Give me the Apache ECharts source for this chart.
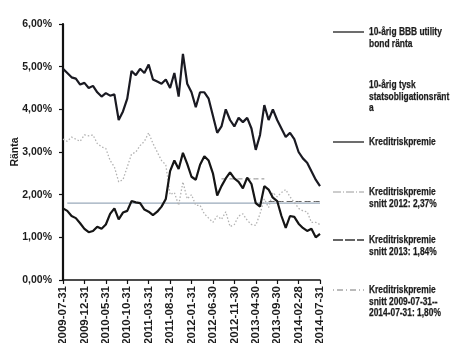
<!DOCTYPE html>
<html>
<head>
<meta charset="utf-8">
<script src="https://cdn.jsdelivr.net/npm/echarts@6/dist/echarts.min.js"></script>
<style>
  html, body { margin: 0; padding: 0; background: #fff; }
  #chart { width: 465px; height: 343px; }
</style>
</head>
<body>
<div id="chart"></div>
<script>
// Month-end observation dates
const dates = [
  '2009-07-31','2009-08-31','2009-09-30','2009-10-31','2009-11-30','2009-12-31',
  '2010-01-31','2010-02-28','2010-03-31','2010-04-30','2010-05-31','2010-06-30',
  '2010-07-31','2010-08-31','2010-09-30','2010-10-31','2010-11-30','2010-12-31',
  '2011-01-31','2011-02-28','2011-03-31','2011-04-30','2011-05-31','2011-06-30',
  '2011-07-31','2011-08-31','2011-09-30','2011-10-31','2011-11-30','2011-12-31',
  '2012-01-31','2012-02-29','2012-03-31','2012-04-30','2012-05-31','2012-06-30',
  '2012-07-31','2012-08-31','2012-09-30','2012-10-31','2012-11-30','2012-12-31',
  '2013-01-31','2013-02-28','2013-03-31','2013-04-30','2013-05-31','2013-06-30',
  '2013-07-31','2013-08-31','2013-09-30','2013-10-31','2013-11-30','2013-12-31',
  '2014-01-31','2014-02-28','2014-03-31','2014-04-30','2014-05-31','2014-06-30',
  '2014-07-31'
];

// 10-year BBB utility bond yield (%)
const bbbYield = [
  4.95, 4.85, 4.75, 4.72, 4.58, 4.62, 4.50, 4.55, 4.40, 4.30,
  4.38, 4.32, 4.35, 3.75, 3.95, 4.25, 4.90, 4.80, 4.95, 4.85,
  5.05, 4.70, 4.65, 4.60, 4.70, 4.50, 4.85, 4.30, 5.30, 4.60,
  4.40, 4.05, 4.40, 4.40, 4.25, 3.85, 3.45, 3.60, 4.00, 3.75,
  3.60, 3.80, 3.70, 3.80, 3.55, 3.05, 3.40, 4.10, 3.75, 4.00,
  3.75, 3.55, 3.35, 3.45, 3.30, 3.00, 2.85, 2.75, 2.55, 2.35,
  2.20
];

// 10-year German government bond yield (%)
const bundYield = [
  3.30, 3.25, 3.35, 3.30, 3.25, 3.40, 3.38, 3.40, 3.20, 3.12,
  3.08, 2.80, 2.65, 2.30, 2.35, 2.65, 2.95, 3.00, 3.15, 3.25,
  3.45, 3.20, 3.00, 2.80, 2.70, 2.00, 2.05, 1.75, 2.30, 1.90,
  2.00, 1.75, 1.75, 1.55, 1.45, 1.35, 1.50, 1.42, 1.60, 1.25,
  1.30, 1.50, 1.55, 1.40, 1.30, 1.28, 1.55, 1.90, 1.70, 2.05,
  1.95, 2.05, 2.12, 1.95, 1.82, 1.68, 1.62, 1.60, 1.35, 1.35,
  1.30
];

// Credit risk premium (%)
const creditPremium = [
  1.68, 1.62, 1.50, 1.45, 1.33, 1.20, 1.12, 1.15, 1.25, 1.20,
  1.30, 1.55, 1.68, 1.42, 1.58, 1.62, 1.85, 1.82, 1.80, 1.65,
  1.60, 1.52, 1.60, 1.72, 1.90, 2.55, 2.80, 2.60, 2.98, 2.72,
  2.42, 2.35, 2.70, 2.90, 2.80, 2.50, 1.98, 2.20, 2.38, 2.52,
  2.38, 2.30, 2.15, 2.40, 2.25, 1.80, 1.72, 2.20, 2.12, 1.93,
  1.85, 1.50, 1.22, 1.50, 1.48, 1.32, 1.22, 1.15, 1.20, 1.00,
  1.08
];

// Average credit risk premium levels and the date spans they are drawn over
const avg2012 = 2.37;
const avg2012Span = ['2012-08-31', '2013-06-30'];
const avg2013 = 1.84;
const avg2013Span = ['2013-07-31', '2014-07-31'];
const avgAll = 1.80;
const avgAllSpan = ['2009-08-31', '2014-07-31'];

const yTicks = [0, 1, 2, 3, 4, 5, 6];

function flatLine(level, span) {
  const i0 = dates.indexOf(span[0]);
  const i1 = dates.indexOf(span[1]);
  return dates.map((d, i) => (i >= i0 && i <= i1 ? level : null));
}

const textFont = '"Liberation Sans", Arial, sans-serif';

const legendItems = [
  { y: 32, text: '10-årig BBB utility\nbond ränta', line: { stroke: '#1e1e1e', lineWidth: 1.3 } },
  { y: 85, text: '10-årig tysk\nstatsobligationsränt\na', line: null },
  { y: 142, text: 'Kreditriskpremie', line: { stroke: '#1e1e1e', lineWidth: 1.3 } },
  { y: 192, text: 'Kreditriskpremie\nsnitt 2012: 2,37%', line: { stroke: '#9a9a9a', lineWidth: 1, lineDash: [8, 2, 1, 2] } },
  { y: 240, text: 'Kreditriskpremie\nsnitt 2013: 1,84%', line: { stroke: '#333', lineWidth: 1.3, lineDash: [10, 2] } },
  { y: 290, text: 'Kreditriskpremie\nsnitt 2009-07-31--\n2014-07-31: 1,80%', line: { stroke: '#777', lineWidth: 1, lineDash: [1, 3, 6, 3] } }
];

// Legend drawn as graphic elements: short sample line + condensed label block
const graphics = [];
legendItems.forEach(it => {
  if (it.line) {
    graphics.push({
      type: 'line',
      shape: { x1: 333, y1: it.y, x2: 364, y2: it.y },
      style: Object.assign({ fill: null }, it.line)
    });
  }
  graphics.push({
    type: 'text',
    x: 369,
    y: it.y - 6,
    scaleX: 0.8,
    originX: 0,
    originY: 0,
    style: {
      text: it.text,
      fill: '#1c1c1c',
      stroke: '#1c1c1c',
      lineWidth: 0.25,
      font: 'bold 10.5px ' + textFont,
      lineHeight: 11.8,
      verticalAlign: 'top'
    }
  });
});

const chart = echarts.init(document.getElementById('chart'), null, { renderer: 'canvas' });

chart.setOption({
  animation: false,
  backgroundColor: '#ffffff',
  grid: { left: 63, top: 24, right: 145, bottom: 63, containLabel: false, outerBoundsMode: 'none' },
  xAxis: {
    type: 'category',
    data: dates,
    boundaryGap: false,
    axisLine: { lineStyle: { color: '#111', width: 1.5 } },
    axisTick: { interval: 4, length: 4, lineStyle: { color: '#111', width: 1.2 } },
    axisLabel: {
      interval: 4,
      rotate: 90,
      margin: 6,
      color: '#1c1c1c',
      fontFamily: textFont,
      fontWeight: 'bold',
      fontSize: 11.5
    },
    splitLine: { show: false }
  },
  yAxis: {
    type: 'value',
    min: yTicks[0],
    max: yTicks[yTicks.length - 1],
    interval: 1,
    name: 'Ränta',
    nameLocation: 'middle',
    nameRotate: 90,
    nameGap: 42,
    nameMoveOverlap: false,
    nameTextStyle: { color: '#1c1c1c', fontFamily: textFont, fontWeight: 'bold', fontSize: 10.5 },
    axisLine: { show: true, lineStyle: { color: '#111', width: 2.2 } },
    axisTick: { show: true, length: 4, lineStyle: { color: '#111', width: 1.2 } },
    axisLabel: {
      margin: 11,
      color: '#1c1c1c',
      fontFamily: textFont,
      fontWeight: 'bold',
      fontSize: 10.5,
      formatter: v => v.toFixed(2).replace('.', ',') + '%'
    },
    splitLine: { show: false }
  },
  graphic: graphics,
  series: [
    {
      name: 'Kreditriskpremie snitt 2009-07-31--2014-07-31: 1,80%',
      type: 'line',
      data: flatLine(avgAll, avgAllSpan),
      showSymbol: false,
      connectNulls: false,
      lineStyle: { color: '#9aaabb', width: 1.2 },
      z: 1
    },
    {
      name: '10-årig tysk statsobligationsränta',
      type: 'line',
      data: bundYield,
      showSymbol: false,
      lineStyle: { color: '#b2b2b2', width: 1.3, type: [1.5, 2] },
      z: 2
    },
    {
      name: 'Kreditriskpremie snitt 2012: 2,37%',
      type: 'line',
      data: flatLine(avg2012, avg2012Span),
      showSymbol: false,
      lineStyle: { color: '#8a8a8a', width: 1, type: [5, 3] },
      z: 3
    },
    {
      name: 'Kreditriskpremie snitt 2013: 1,84%',
      type: 'line',
      data: flatLine(avg2013, avg2013Span),
      showSymbol: false,
      lineStyle: { color: '#666', width: 1, type: [6, 3] },
      z: 3
    },
    {
      name: '10-årig BBB utility bond ränta',
      type: 'line',
      data: bbbYield,
      showSymbol: false,
      lineStyle: { color: '#1a1a22', width: 2.2 },
      z: 4
    },
    {
      name: 'Kreditriskpremie',
      type: 'line',
      data: creditPremium,
      showSymbol: false,
      lineStyle: { color: '#151515', width: 2.2 },
      z: 5
    }
  ]
});
</script>
</body>
</html>
